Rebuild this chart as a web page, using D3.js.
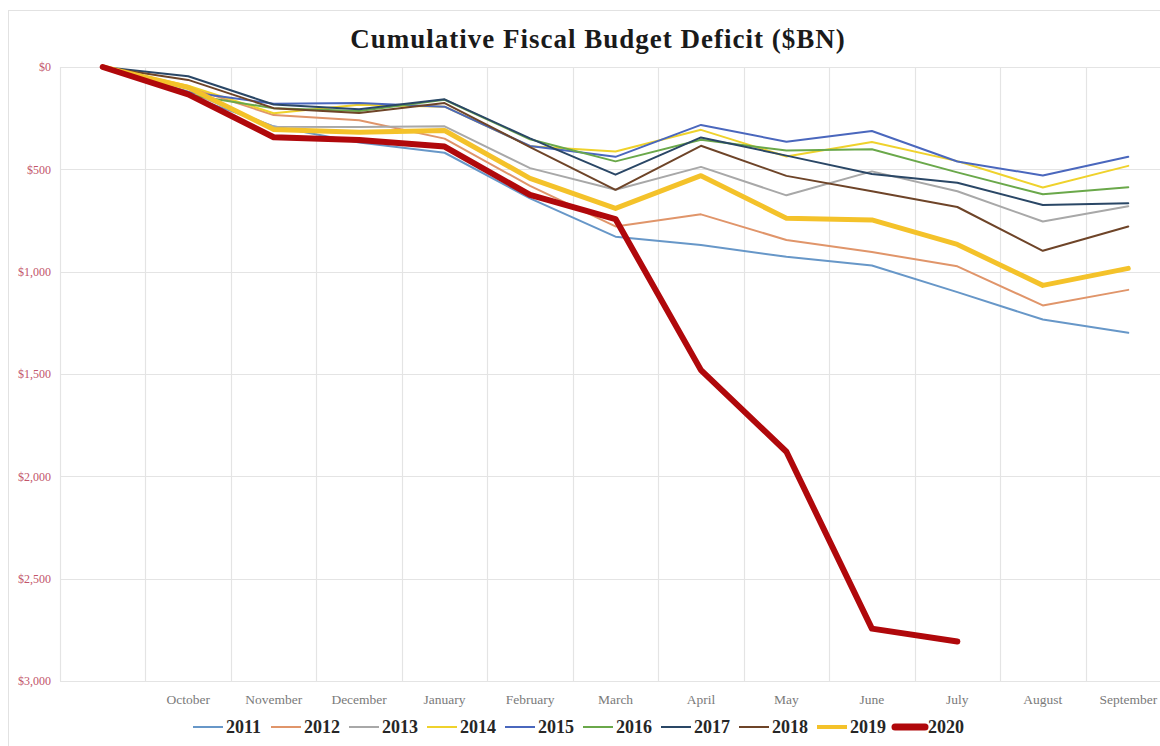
<!DOCTYPE html>
<html>
<head>
<meta charset="utf-8">
<script src="https://cdn.jsdelivr.net/npm/d3@7"></script>
<style>
  html, body { margin: 0; padding: 0; background: #fff; }
  svg { display: block; font-family: "Liberation Serif", "DejaVu Serif", serif; }
</style>
</head>
<body>
<svg id="chart" width="1160" height="746"></svg>
<script>
// Fiscal-year months; the leading blank slot is the $0 starting point.
const months = ["", "October", "November", "December", "January", "February", "March",
                "April", "May", "June", "July", "August", "September"];

// Cumulative deficit, $BN (drawn downward from $0).
const fy2011 = [0, 140, 290, 369, 419, 642, 829, 870, 927, 970, 1100, 1234, 1299];
const fy2012 = [0, 98, 235, 260, 350, 581, 779, 720, 845, 904, 974, 1165, 1089];
const fy2013 = [0, 120, 292, 293, 290, 494, 600, 488, 627, 510, 607, 755, 680];
const fy2014 = [0, 91, 226, 184, 194, 387, 413, 307, 437, 366, 460, 589, 483];
const fy2015 = [0, 122, 179, 176, 194, 386, 439, 283, 365, 313, 462, 530, 439];
const fy2016 = [0, 136, 201, 215, 160, 353, 461, 355, 408, 402, 515, 622, 587];
const fy2017 = [0, 45, 183, 207, 158, 349, 526, 344, 433, 523, 566, 674, 666];
const fy2018 = [0, 63, 201, 225, 176, 391, 600, 385, 532, 607, 684, 898, 779];
const fy2019 = [0, 100, 305, 319, 310, 544, 691, 531, 739, 747, 867, 1067, 984];
const fy2020 = [0, 134, 343, 357, 389, 625, 743, 1481, 1880, 2744, 2807];

const yTicks = [0, 500, 1000, 1500, 2000, 2500, 3000];
const yTickLabels = ["$0", "$500", "$1,000", "$1,500", "$2,000", "$2,500", "$3,000"];

const seriesNames = ["2011", "2012", "2013", "2014", "2015", "2016", "2017", "2018", "2019", "2020"];
const seriesValues = [fy2011, fy2012, fy2013, fy2014, fy2015, fy2016, fy2017, fy2018, fy2019, fy2020];
const seriesColors = ["#6797c8", "#e0956a", "#a8a8a8", "#efd22c", "#4a67bd", "#6aa84a",
                      "#2a4766", "#6e4428", "#f4c22a", "#b0080b"];
const seriesWidths = [2, 2, 2, 2, 2, 2, 2, 2, 5, 6];

const svg = d3.select("#chart");

// Chart frame
svg.append("line").attr("x1", 8.5).attr("x2", 8.5).attr("y1", 10).attr("y2", 746)
  .attr("stroke", "#e2e2e2");
svg.append("line").attr("x1", 8).attr("x2", 1160).attr("y1", 10.5).attr("y2", 10.5)
  .attr("stroke", "#e2e2e2");

// Title
svg.append("text")
  .attr("x", 598).attr("y", 48)
  .attr("text-anchor", "middle")
  .attr("font-size", 27).attr("font-weight", "bold").attr("fill", "#1a1a1a")
  .attr("letter-spacing", 1)
  .text("Cumulative Fiscal Budget Deficit ($BN)");

const plot = { left: 60, top: 67, bottom: 681, right: 1171 };

const x = d3.scaleBand().domain(months.map((m, i) => i)).range([plot.left, plot.right]).padding(0);
const cx = i => x(i) + x.bandwidth() / 2;
const y = d3.scaleLinear().domain([0, 3000]).range([plot.top, plot.bottom]);

// Horizontal gridlines
svg.append("g").selectAll("line").data(yTicks).join("line")
  .attr("x1", plot.left).attr("x2", plot.right)
  .attr("y1", d => Math.round(y(d)) + 0.5).attr("y2", d => Math.round(y(d)) + 0.5)
  .attr("stroke", "#e4e4e4").attr("stroke-width", 1.2);

// Vertical gridlines at category boundaries
svg.append("g").selectAll("line").data(d3.range(months.length + 1)).join("line")
  .attr("x1", i => Math.round(plot.left + i * x.bandwidth()) + 0.5)
  .attr("x2", i => Math.round(plot.left + i * x.bandwidth()) + 0.5)
  .attr("y1", plot.top).attr("y2", plot.bottom)
  .attr("stroke", "#e4e4e4").attr("stroke-width", 1.2);

// Y axis labels
const yAxis = d3.axisLeft(y).tickValues(yTicks)
  .tickFormat((d, i) => yTickLabels[i]).tickSize(0).tickPadding(9);
const gy = svg.append("g").attr("transform", `translate(${plot.left},0)`).call(yAxis);
gy.select(".domain").remove();
gy.selectAll("text").attr("font-family", "Liberation Serif, serif")
  .attr("font-size", 12).attr("fill", "#c2556a");

// X axis labels
const xAxis = d3.axisBottom(x).tickFormat(i => months[i]).tickSize(0).tickPadding(13);
const gx = svg.append("g").attr("transform", `translate(0,${plot.bottom})`).call(xAxis);
gx.select(".domain").remove();
gx.selectAll("text").attr("font-family", "Liberation Serif, serif")
  .attr("font-size", 13.5).attr("fill", "#7a7a7a");

// Series lines
const line = d3.line().x((d, i) => cx(i)).y(d => y(d)).curve(d3.curveLinear);
svg.append("g").selectAll("path").data(seriesValues).join("path")
  .attr("d", d => line(d))
  .attr("fill", "none")
  .attr("stroke", (d, i) => seriesColors[i])
  .attr("stroke-width", (d, i) => seriesWidths[i])
  .attr("stroke-linejoin", "round").attr("stroke-linecap", "round");

// Legend
const legendX = d3.scaleLinear().domain([0, seriesNames.length - 1]).range([193, 895]);
const legend = svg.append("g").selectAll("g").data(seriesNames).join("g")
  .attr("transform", (d, i) => `translate(${legendX(i)},727)`);
legend.append("line")
  .attr("x1", 0).attr("x2", 30).attr("y1", 0).attr("y2", 0)
  .attr("stroke", (d, i) => seriesColors[i])
  .attr("stroke-width", (d, i) => i === 9 ? 7 : (i === 8 ? 4 : 2))
  .attr("stroke-linecap", (d, i) => i === 9 ? "round" : "butt");
legend.append("text")
  .attr("x", 33).attr("y", 6)
  .attr("font-size", 18).attr("font-weight", "bold").attr("fill", "#262626")
  .text(d => d);
</script>
</body>
</html>
